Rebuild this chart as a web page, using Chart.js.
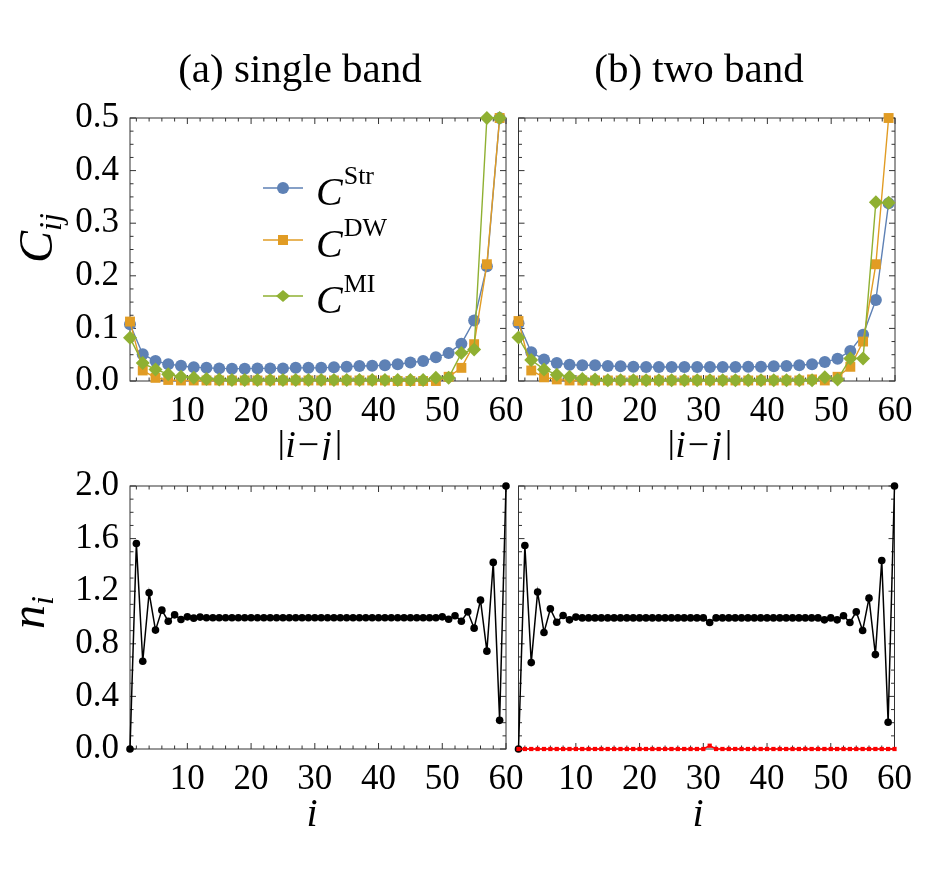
<!DOCTYPE html>
<html><head><meta charset="utf-8">
<script src="https://cdn.jsdelivr.net/npm/chart.js@4.4.1/dist/chart.umd.min.js"></script>
<style>
html,body{margin:0;padding:0;background:#fff;}
body{width:938px;height:888px;position:relative;overflow:hidden;}
canvas{position:absolute;}
</style></head><body>
<canvas id="tl" width="540" height="460" style="left:0;top:0"></canvas>
<canvas id="tr" width="538" height="460" style="left:400px;top:0"></canvas>
<canvas id="bl" width="540" height="448" style="left:0;top:440px"></canvas>
<canvas id="br" width="538" height="448" style="left:400px;top:440px"></canvas>
<script>
// ---------- data ----------
const separation = [1,3,5,7,9,11,13,15,17,19,21,23,25,27,29,31,33,35,37,39,41,43,45,47,49,51,53,55,57,59];
const sites = [1,2,3,4,5,6,7,8,9,10,11,12,13,14,15,16,17,18,19,20,21,22,23,24,25,26,27,28,29,30,
               31,32,33,34,35,36,37,38,39,40,41,42,43,44,45,46,47,48,49,50,51,52,53,54,55,56,57,58,59,60];

const strSingle = [0.108,0.051,0.038,0.032,0.029,0.026,0.025,0.024,0.0235,0.0235,0.024,0.024,0.024,0.025,0.025,
                   0.025,0.026,0.027,0.0285,0.029,0.030,0.032,0.035,0.038,0.045,0.053,0.071,0.115,0.218,0.5];
const dwSingle  = [0.113,0.020,0.006,0.002,0.001,0.001,0.001,0.001,0.001,0.001,0.001,0.001,0.001,0.001,0.001,
                   0.001,0.001,0.001,0.001,0.001,0.001,0.0,0.0,0.0,0.0,0.008,0.025,0.070,0.222,0.5];
const miSingle  = [0.082,0.034,0.022,0.013,0.008,0.006,0.004,0.003,0.002,0.002,0.002,0.002,0.002,0.002,0.002,
                   0.002,0.002,0.002,0.002,0.002,0.002,0.002,0.002,0.002,0.006,0.006,0.053,0.060,0.5,0.5];

const strTwo = [0.110,0.0546,0.041,0.034,0.031,0.030,0.030,0.0286,0.028,0.027,0.0267,0.0267,0.0267,0.0267,0.0267,
                0.0267,0.0267,0.0267,0.027,0.027,0.028,0.0286,0.030,0.032,0.036,0.0425,0.057,0.088,0.154,0.338];
const dwTwo  = [0.114,0.020,0.007,0.003,0.001,0.001,0.001,0.001,0.001,0.001,0.001,0.001,0.001,0.001,0.001,
                0.001,0.001,0.001,0.001,0.001,0.001,0.001,0.001,0.003,0.001,0.008,0.027,0.075,0.222,0.5];
const miTwo  = [0.0825,0.040,0.022,0.012,0.008,0.004,0.003,0.0015,0.0015,0.0015,0.0015,0.0015,0.0015,0.0015,0.0015,
                0.0015,0.0015,0.0015,0.0015,0.0015,0.0015,0.0015,0.0015,0.0015,0.007,0.003,0.043,0.043,0.34,0.339];

const nSingle = [0,1.563,0.667,1.188,0.904,1.056,0.972,1.020,0.985,1.005,0.995,1.003,
                 0.998,0.998,0.998,0.998,0.998,0.998,0.998,0.998,0.998,0.998,0.998,0.998,0.998,0.998,0.998,0.998,
                 0.998,0.998,0.998,0.998,0.998,0.998,0.998,0.998,0.998,0.998,0.998,0.998,0.998,0.998,0.998,0.998,
                 0.998,0.998,0.998,0.998,0.998,
                 1.005,0.987,1.013,0.972,1.043,0.919,1.132,0.744,1.419,0.218,2.0];
const nTwo = [0,1.548,0.657,1.193,0.886,1.066,0.964,1.015,0.982,1.003,
              0.997,0.997,0.997,0.997,0.997,0.997,0.997,0.997,0.997,0.997,0.997,0.997,0.997,0.997,0.997,0.997,0.997,0.997,0.997,0.997,
              0.962,
              0.997,0.997,0.997,0.997,0.997,0.997,0.997,0.997,0.997,0.997,0.997,0.997,0.997,0.997,0.997,0.997,0.997,
              0.982,0.997,0.982,1.013,0.962,1.043,0.901,1.147,0.718,1.434,0.203,2.0];
const redTwo = [0,0,0,0,0,0,0,0,0,0,0,0,0,0,0,0,0,0,0,0,0,0,0,0,0,0,0,0,0,0,
                0.025,0,0,0,0,0,0,0,0,0,0,0,0,0,0,0,0,0,0,0,0,0,0,0,0,0,0,0,0,0];

const xTickValues = [10,20,30,40,50,60];
const cTickValues = [0.0,0.1,0.2,0.3,0.4,0.5];
const nTickValues = [0.0,0.4,0.8,1.2,1.6,2.0];

const titleA = '(a) single band';
const titleB = '(b) two band';
const legendNames = ['Str','DW','MI'];

// ---------- styling ----------
const FONT = '"Liberation Serif", "Times New Roman", serif';
const BLUE = '#5E81B5', ORANGE = '#E19C24', GREEN = '#8FB032';
const FRAME = '#333';
const TICKSIZE = 35;

function pts(xs, ys){ return xs.map((x,i)=>({x:x, y:ys[i]})); }
function fontOf(p){ return (p.it ? 'italic ' : '') + p.s + 'px ' + FONT; }
function runWidth(ctx, parts){ let w=0; for(const p of parts){ ctx.font=fontOf(p); w+=ctx.measureText(p.t).width + (p.k||0);} return w; }
function drawRun(ctx, parts, x, y, center){
  ctx.textAlign='left'; ctx.textBaseline='alphabetic'; ctx.fillStyle='#000';
  let cx = center ? x - runWidth(ctx, parts)/2 : x;
  for(const p of parts){ ctx.font=fontOf(p); ctx.fillText(p.t, cx, y + (p.dy||0)); cx += ctx.measureText(p.t).width + (p.k||0); }
}

function makeMinor(lo, hi, step, majors){
  const out=[]; const n=Math.round((hi-lo)/step);
  for(let k=0;k<=n;k++){ const v=+(lo+k*step).toFixed(4); if(!majors.some(m=>Math.abs(m-v)<1e-6)) out.push(v); }
  return out;
}

const frameTicks = {
  id:'frameTicks',
  beforeDatasetsDraw(chart, args, o){
    const {ctx, chartArea:a, scales:{x,y}} = chart;
    ctx.save();
    ctx.strokeStyle=FRAME; ctx.lineWidth=1;
    ctx.strokeRect(a.left, a.top, a.right-a.left, a.bottom-a.top);
    ctx.beginPath();
    const xt=(vals,len)=>{ for(const v of vals){ const px=x.getPixelForValue(v); if(px<a.left-0.5||px>a.right+0.5) continue;
      ctx.moveTo(px,a.bottom); ctx.lineTo(px,a.bottom-len); ctx.moveTo(px,a.top); ctx.lineTo(px,a.top+len);} };
    const yt=(vals,len)=>{ for(const v of vals){ const py=y.getPixelForValue(v);
      ctx.moveTo(a.left,py); ctx.lineTo(a.left+len,py); ctx.moveTo(a.right,py); ctx.lineTo(a.right-len,py);} };
    xt(o.xMajor,6); xt(o.xMinor,3.5); yt(o.yMajor,6); yt(o.yMinor,3.5);
    ctx.stroke();
    ctx.restore();
  },
  afterDraw(chart, args, o){
    if(o.extra) { const ctx=chart.ctx; ctx.save(); o.extra(ctx, chart); ctx.restore(); }
  }
};

function panel(id, canvasRect, frame, datasets, yRange, yTicks, yMinorStep, showY, extra){
  const [cx,cy,cw,ch] = canvasRect;
  const [L,T,R,B] = frame;
  const xMinor = makeMinor(2, 60, 2, xTickValues);
  const yMinor = makeMinor(yRange[0], yRange[1], yMinorStep, yTicks);
  return new Chart(document.getElementById(id), {
    type:'line',
    data:{ datasets: datasets },
    options:{
      responsive:false, animation:false, devicePixelRatio:1,
      layout:{ padding:{ left:0, top:T-cy, right:cx+cw-R, bottom:0 } },
      plugins:{ legend:{display:false}, tooltip:{enabled:false},
        frameTicks:{ xMajor:xTickValues, xMinor:xMinor, yMajor:yTicks, yMinor:yMinor, extra:extra } },
      elements:{ line:{ tension:0 } },
      scales:{
        x:{ type:'linear', min:1, max:60,
            grid:{display:false, drawTicks:false}, border:{display:false},
            afterBuildTicks:s=>{ s.ticks = xTickValues.map(v=>({value:v})); },
            afterFit:s=>{ s.height = cy+ch-B; },
            ticks:{ padding:10, maxRotation:0, autoSkip:false, color:'#000',
                    font:{family:FONT, size:TICKSIZE}, callback:v=>String(v) } },
        y:{ type:'linear', min:yRange[0], max:yRange[1],
            grid:{display:false, drawTicks:false}, border:{display:false},
            afterBuildTicks:s=>{ s.ticks = yTicks.map(v=>({value:v})); },
            afterFit:s=>{ s.width = L-cx; },
            ticks:{ display:showY, padding:11, autoSkip:false, color:'#000',
                    font:{family:FONT, size:TICKSIZE}, callback:v=>v.toFixed(1) } }
      }
    },
    plugins:[frameTicks]
  });
}

function cSets(str, dw, mi){
  return [
    { data:pts(separation,str), borderColor:BLUE, backgroundColor:BLUE, borderWidth:1.4,
      pointStyle:'circle', pointRadius:6, pointBorderWidth:0, clip:false, order:3 },
    { data:pts(separation,dw), borderColor:ORANGE, backgroundColor:ORANGE, borderWidth:1.4,
      pointStyle:'rect', pointRadius:7, pointBorderWidth:0, clip:false, order:2 },
    { data:pts(separation,mi), borderColor:GREEN, backgroundColor:GREEN, borderWidth:1.4,
      pointStyle:'rectRot', pointRadius:7, pointBorderWidth:0, clip:false, order:1 }
  ];
}
function nSet(vals){
  return { data:pts(sites,vals), borderColor:'#000', backgroundColor:'#000', borderWidth:1.5,
           pointStyle:'circle', pointRadius:3.8, pointBorderWidth:0, clip:false, order:1 };
}

const absLabel = [{t:'|',s:38},{t:'i',s:38,it:true,k:2},{t:'\u2212',s:38,k:2},{t:'j',s:38,it:true,k:3},{t:'|',s:38}];
const iLabel = [{t:'i',s:40,it:true}];

function drawRot(ctx, parts, px, py){
  ctx.save(); ctx.translate(px, py); ctx.rotate(-Math.PI/2); drawRun(ctx, parts, 0, 0, false); ctx.restore();
}

// top-left
panel('tl', [0,0,540,460], [130,118,506,381], cSets(strSingle,dwSingle,miSingle), [0,0.5], cTickValues, 0.025, true,
  (ctx)=>{
    drawRun(ctx, [{t:titleA,s:41}], 300, 82, true);
    drawRun(ctx, absLabel, 310, 457, true);
    drawRot(ctx, [{t:'C',s:48,it:true},{t:'ij',s:32,it:true,dy:9}], 52, 263);
    const rows=[188,240,296], cols=[BLUE,ORANGE,GREEN];
    rows.forEach((ry,k)=>{
      ctx.strokeStyle=cols[k]; ctx.lineWidth=1.6; ctx.beginPath(); ctx.moveTo(263,ry); ctx.lineTo(303,ry); ctx.stroke();
      ctx.fillStyle=cols[k]; ctx.beginPath();
      if(k===0){ ctx.arc(283,ry,6,0,Math.PI*2); }
      else if(k===1){ ctx.rect(278,ry-5,10,10); }
      else { ctx.moveTo(276,ry); ctx.lineTo(283,ry-6); ctx.lineTo(290,ry); ctx.lineTo(283,ry+6); ctx.closePath(); }
      ctx.fill();
      drawRun(ctx, [{t:'C',s:40,it:true,k:1},{t:legendNames[k],s:26,dy:-21}], 316, ry+17, false);
    });
  });
// top-right
panel('tr', [400,0,538,460], [518.5,118,895,381], cSets(strTwo,dwTwo,miTwo), [0,0.5], cTickValues, 0.025, false,
  (ctx)=>{
    drawRun(ctx, [{t:titleB,s:41}], 299, 82, true);
    drawRun(ctx, absLabel, 300, 457, true);
  });
// bottom-left
panel('bl', [0,440,540,448], [130,486,506,749], [nSet(nSingle)], [0,2], nTickValues, 0.1, true,
  (ctx)=>{
    drawRun(ctx, iLabel, 312, 826-440, true);
    drawRot(ctx, [{t:'n',s:48,it:true},{t:'i',s:32,it:true,dy:9}], 44, 629-440);
  });
// bottom-right
const brSets = [nSet(nTwo),
  { data:pts(sites,redTwo), borderColor:'#FF0000', backgroundColor:'#FF0000', borderWidth:1.5,
    pointStyle:'rect', pointRadius:3, pointBorderWidth:0, clip:false, order:0 }];
panel('br', [400,440,538,448], [518.5,486,894.5,749], brSets, [0,2], nTickValues, 0.1, false,
  (ctx)=>{
    drawRun(ctx, iLabel, 298, 826-440, true);
  });
</script>
</body></html>
